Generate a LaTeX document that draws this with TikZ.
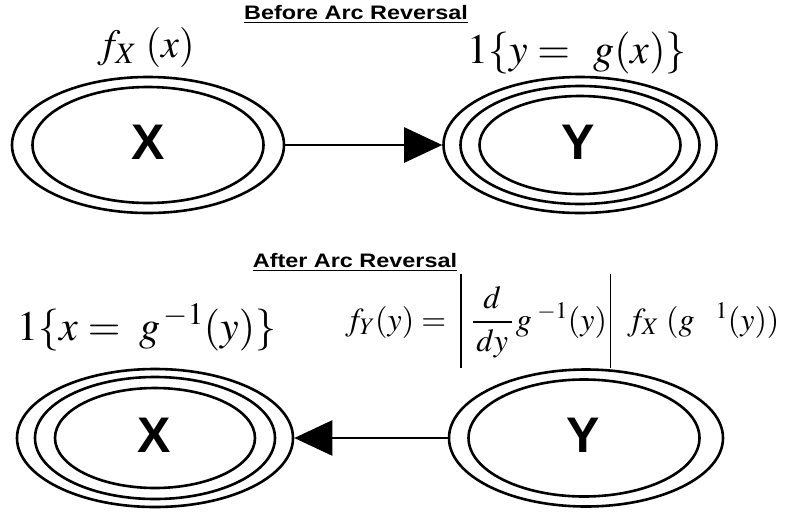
\documentclass[tikz,border=0pt]{standalone}
\usepackage{mathptmx}
\usepackage[no-math]{fontspec}
\setsansfont{Liberation Sans}
\usetikzlibrary{shapes.geometric,arrows.meta}
\begin{document}
\begin{tikzpicture}[x=1pt,y=-1pt,
  ell/.style={draw, ellipse, line width=2.6pt, inner sep=0pt},
  lbl/.style={font=\sffamily\bfseries\fontsize{50}{50}\selectfont, inner sep=0pt},
  ttl/.style={font=\sffamily\bfseries\fontsize{19.5}{20}\selectfont, inner sep=0pt, anchor=base},
  mth/.style={inner sep=0pt, anchor=base},
  con/.style={line width=2.6pt, -{Triangle[length=38pt,width=35pt]}}]
\useasboundingbox (0,0) rectangle (796,512);

% ---------- before ----------
\node[ttl] (t1) at (356,19) {\scalebox{1.2}[1]{\underline{Before Arc Reversal}}};
\node[ell, minimum width=272pt, minimum height=136pt] (xo) at (148,145) {};
\node[ell, minimum width=231pt, minimum height=116pt] (xi) at (148,145) {};
\node[lbl] (xl) at (148,142.5) {X};
\node[mth, font=\fontsize{40}{40}\selectfont] (fx) at (146,57) {$f_X\;(x)$};

\node[ell, minimum width=273pt, minimum height=136pt] (yo) at (580,145) {};
\node[ell, minimum width=239pt, minimum height=118pt] (ym) at (580,145) {};
\node[ell, minimum width=201pt, minimum height=98pt] (yi) at (580,145) {};
\node[lbl] (yl) at (578,142.5) {Y};
\node[mth, font=\fontsize{42}{42}\selectfont] (gy) at (577,63) {$1\{y =\;\, g(x)\}$};

\draw[con] (xo.east) -- (yo.west);

% ---------- after ----------
\node[ttl] (t2) at (355,267) {\scalebox{1.2}[1]{\underline{After Arc Reversal}}};
\node[ell, minimum width=276pt, minimum height=138pt] (bxo) at (155,438) {};
\node[ell, minimum width=240pt, minimum height=122pt] (bxm) at (155,438) {};
\node[ell, minimum width=200pt, minimum height=100pt] (bxi) at (155,438) {};
\node[lbl] (bxl) at (154,435.5) {X};
\node[mth, font=\fontsize{42}{42}\selectfont] (gx) at (147,340) {$1\{x =\; g^{\,-1}(y)\}$};

\node[ell, minimum width=274pt, minimum height=137pt] (byo) at (586,438) {};
\node[ell, minimum width=231pt, minimum height=117pt] (byi) at (584,438) {};
\node[lbl] (byl) at (583,435.5) {Y};
\node[mth, anchor=base west, font=\fontsize{32}{32}\selectfont] (fy) at (345,330)
  {$f_Y(y) = \hspace{14pt}\vrule height56pt depth38pt width1.3pt\hspace{3pt}{\displaystyle\frac{\,d\,}{\,dy\,}}\hspace{3pt}g^{\;-1}(y)\hspace{3pt}\vrule height56pt depth38pt width1.3pt\hspace{16pt}f_X\;(g^{\;\;\;\;1}(y))$};

\draw[con] (byo.west) -- (bxo.east);
\end{tikzpicture}
\end{document}
